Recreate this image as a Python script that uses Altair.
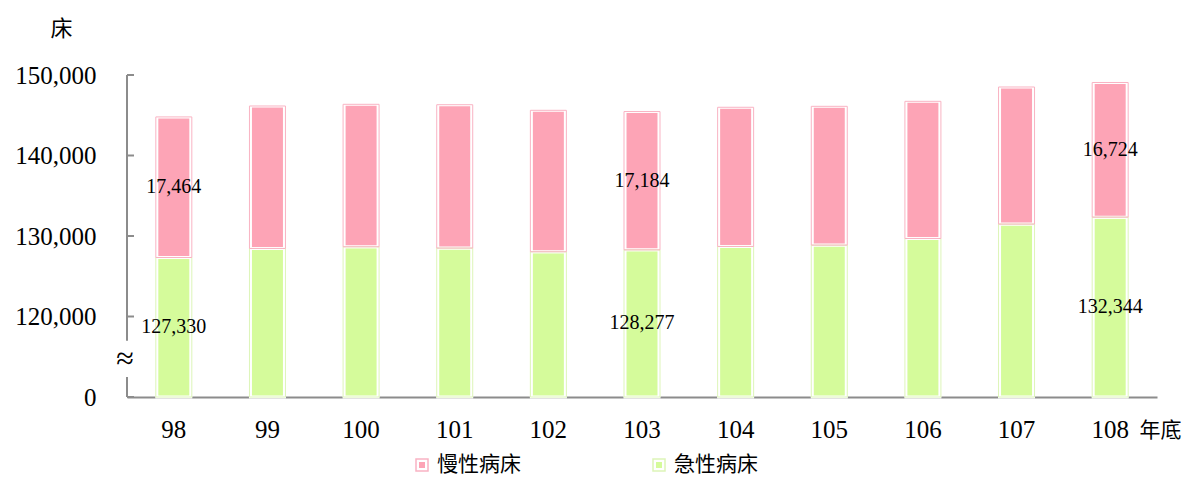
import altair as alt
import pandas as pd

# ---- data ----
years = ["98", "99", "100", "101", "102", "103", "104", "105", "106", "107", "108"]
acute_beds = [127330, 128450, 128660, 128500, 128040, 128277, 128700, 128870, 129690, 131480, 132344]
chronic_beds = [17464, 17700, 17700, 17810, 17575, 17184, 17290, 17240, 17040, 17030, 16724]
labeled_years = ["98", "103", "108"]
series_names = ["慢性病床", "急性病床"]
fill_colors = ["#FDA4B6", "#D5FB9B"]
edge_colors = ["#F9B3C3", "#DDF5B8"]

# broken value axis: its floor is shown as "0"
y_floor = 110000
y_top = 150000
y_ticks = [110000, 120000, 130000, 140000, 150000]
break_gap = [112500, 117000]

rows = []
for yr, a, c in zip(years, acute_beds, chronic_beds):
    rows.append(dict(year=yr, series="急性病床", value=a, start=y_floor, end=a))
    rows.append(dict(year=yr, series="慢性病床", value=c, start=a, end=a + c))
df = pd.DataFrame(rows)
df["mid"] = (df["start"] + df["end"]) / 2

SERIF = "Liberation Serif"
CJK = "Noto Sans CJK TC"
GRAY = "#8c8c8c"

y_scale = alt.Scale(domain=[y_floor, y_top], nice=False, zero=False)
y_axis = alt.Axis(
    values=y_ticks,
    labelExpr=f"datum.value == {y_floor} ? '0' : format(datum.value, ',')",
    domain=False, ticks=False, grid=False,
    labelFont=SERIF, labelFontSize=25, labelColor="black", labelPadding=31,
    title="床", titleAngle=0, titleX=-66, titleY=-47, titleAlign="center",
    titleBaseline="middle", titleFont=CJK, titleFontSize=22,
    titleFontWeight="normal", titleColor="black",
)
x_enc = alt.X(
    "year:N", sort=years,
    scale=alt.Scale(paddingInner=0, paddingOuter=0),
    axis=alt.Axis(
        labelAngle=0, ticks=False, domainColor=GRAY, domainWidth=2,
        labelFont=SERIF, labelFontSize=25, labelColor="black", labelPadding=20,
        title="年底", titleX=1012, titleY=33, titleAlign="left",
        titleBaseline="middle", titleFont=CJK, titleFontSize=21,
        titleFontWeight="normal", titleColor="black", titleAnchor="start",
    ),
)

def Y(field):
    return alt.Y(field, scale=y_scale, axis=y_axis)

fill_scale = alt.Scale(domain=series_names, range=fill_colors)
edge_scale = alt.Scale(domain=series_names, range=edge_colors)

base = alt.Chart(df)

bars_fill = base.mark_bar(size=34, stroke="white", strokeWidth=3).encode(
    x=x_enc, y=Y("end:Q"), y2="start:Q",
    fill=alt.Fill("series:N", scale=fill_scale, legend=None),
)
bars_edge = base.mark_bar(size=36, fillOpacity=0, strokeWidth=1).encode(
    x=x_enc, y=Y("end:Q"), y2="start:Q",
    stroke=alt.Stroke("series:N", scale=edge_scale, legend=None),
)
labels = base.transform_filter(
    alt.FieldOneOfPredicate(field="year", oneOf=labeled_years)
).mark_text(font=SERIF, fontSize=20, color="black", baseline="middle").encode(
    x=x_enc, y=Y("mid:Q"), text=alt.Text("value:Q", format=","),
)

# broken y-axis line
seg_df = pd.DataFrame({"lo": [y_floor, break_gap[1]], "hi": [break_gap[0], y_top]})
axis_line = alt.Chart(seg_df).mark_rule(color=GRAY, strokeWidth=2).encode(
    x=alt.value(0), y=Y("lo:Q"), y2="hi:Q",
)
tick_df = pd.DataFrame({"t": y_ticks})
axis_ticks = alt.Chart(tick_df).mark_rule(color=GRAY, strokeWidth=2).encode(
    x=alt.value(0), x2=alt.value(7), y=Y("t:Q"),
)
brk_df = pd.DataFrame({"b": [(break_gap[0] + break_gap[1]) / 2], "s": ["≈"]})
break_mark = alt.Chart(brk_df).mark_text(
    font=SERIF, fontSize=32, color="black", baseline="middle", align="center",
).encode(x=alt.value(-2), y=Y("b:Q"), text="s:N")

# legend (bottom)
leg_df = pd.DataFrame({"series": series_names})
leg_pos = {"慢性病床": 295, "急性病床": 532}
leg_y = 390
legend_layers = []
for name in series_names:
    one = alt.Chart(leg_df).transform_filter(alt.datum.series == name)
    px = leg_pos[name]
    legend_layers.append(one.mark_point(shape="square", size=144, filled=False, strokeWidth=1.5, opacity=1).encode(
        x=alt.value(px), y=alt.value(leg_y),
        stroke=alt.Stroke("series:N", scale=edge_scale, legend=None),
    ))
    legend_layers.append(one.mark_point(shape="square", size=36, filled=True, opacity=1, strokeWidth=0).encode(
        x=alt.value(px), y=alt.value(leg_y),
        fill=alt.Fill("series:N", scale=fill_scale, legend=None),
    ))
    legend_layers.append(one.mark_text(font=CJK, fontSize=21, color="black", align="left", baseline="middle").encode(
        x=alt.value(px + 15), y=alt.value(leg_y), text="series:N",
    ))

chart = alt.layer(
    bars_fill, bars_edge, labels, axis_line, axis_ticks, break_mark, *legend_layers
).properties(
    width=1030, height=322,
    autosize=alt.AutoSizeParams(type="none"),
    padding={"left": 119, "top": 67, "right": 27, "bottom": 85},
).configure_view(stroke=None)

chart.save("out.html", embed_options={"renderer": "svg", "actions": False})
